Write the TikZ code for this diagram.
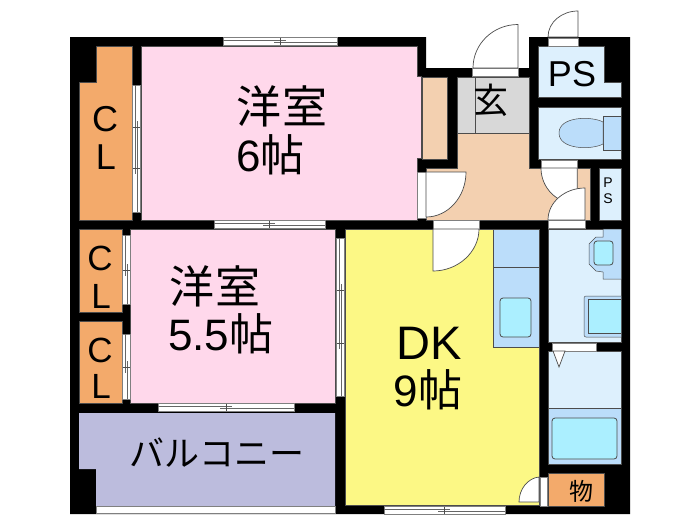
\documentclass[tikz,border=0pt]{standalone}
\usepackage{fontspec}
\setmainfont{Liberation Sans}
\newfontfamily\cjkfont{Noto Sans CJK JP}
\usetikzlibrary{positioning}

\begin{document}
\begin{tikzpicture} [
						x=1pt, y=-1pt,
						room/.style={draw=black!70, line width=0.5pt},
						pinkroom/.style={room, fill=pink1},
						closet/.style={room, fill=orange1},
						hall/.style={room, fill=peach1},
						wet/.style={room, fill=blue1},
						fixture/.style={room, fill=blue2},
						basin/.style={room, fill=blue3, line width=0.8pt, rounded corners=3pt},
						doorleaf/.style={draw=black!70, line width=0.7pt, fill=white},
						sill/.style={draw=black!50, line width=0.4pt, fill=white},
						label/.style={inner sep=0pt, text=black},
						bigjp/.style={label, font=\cjkfont\fontsize{45}{45}\selectfont},
						bignum/.style={label, font=\fontsize{44}{44}\selectfont}
					]
\definecolor{pink1}{HTML}{FFD8EB}
\definecolor{orange1}{HTML}{F3AA6B}
\definecolor{peach1}{HTML}{F3D0B0}
\definecolor{blue1}{HTML}{DDF0FD}
\definecolor{blue2}{HTML}{BBDDFA}
\definecolor{blue3}{HTML}{ABEFFF}
\definecolor{yellow1}{HTML}{FCF885}
\definecolor{gray1}{HTML}{D8D8D8}
\definecolor{lilac1}{HTML}{BCBCDD}

\useasboundingbox (0,0) rectangle (700,525);
\fill[white] (0,0) rectangle (700,525);

% walls
\fill[black] (70,37) -- (426,37) -- (426,68) -- (529,68) -- (529,37) -- (630,37)
	-- (630,514) -- (70,514) -- cycle;

% rooms
\draw[pinkroom] (141,46) -- (417,46) -- (417,76) -- (421,76) -- (421,158) -- (417,158)
	-- (417,220) -- (141,220) -- cycle;
\draw[pinkroom] (130,229) rectangle (335,403);
\draw[closet] (96,46) -- (132,46) -- (132,220) -- (79,220) -- (79,82) -- (96,82) -- cycle;
\draw[closet] (79,229) rectangle (122,312);
\draw[closet] (79,321) rectangle (122,403);
\fill[lilac1] (79,413) -- (335,413) -- (335,506) -- (96,506) -- (96,469) -- (79,469) -- cycle;
\draw[room, fill=peach1] (422,77) rectangle (447,159);
\draw[room, fill=gray1] (457,77) rectangle (529,133);
\draw[room] (475,77) -- (475,133);
\draw[hall] (457,133) -- (529,133) -- (529,168) -- (590,168) -- (590,220) -- (426,220)
	-- (426,168) -- (457,168) -- cycle;
\draw[room, fill=yellow1] (345,229) rectangle (539,505);
\draw[fixture] (493,229) rectangle (539,347);
\draw[room] (493,267) -- (539,267);
\draw[basin] (500,298) rectangle (531,337);

% wet rooms
\draw[wet] (538,46) -- (604,46) -- (604,82) -- (621,82) -- (621,97) -- (538,97) -- cycle;
\draw[wet] (538,107) rectangle (621,159);
\draw[wet] (599,168) rectangle (621,220);
\draw[wet] (548,229) rectangle (621,342);
\draw[wet] (548,351) rectangle (621,408);
\draw[fixture] (548,408) rectangle (621,464);
\draw[basin] (552,418) rectangle (617,459);
\draw[room, fill=orange1] (548,473) rectangle (604,506);

% toilet
\draw[fixture] (603,116) rectangle (621,150);
\draw[fixture] (603,122) .. controls (592,116) and (559,116) .. (559,133)
	.. controls (559,150) and (592,150) .. (603,144) -- cycle;

% washbasin and washer
\draw[fixture] (621,229) -- (603,229) -- (603,237) -- (596,237) -- (589,244) -- (589,264)
	-- (596,271) -- (603,272) -- (603,279) -- (621,279);
\draw[basin] (594,241) rectangle (613,265);
\draw[fixture, rounded corners=2pt] (621,296) -- (584,296) -- (584,337) -- (621,337);
\draw[room, fill=blue3] (621,299) -- (588,299) -- (588,333) -- (621,333);

% windows
\foreach \xa/\xb/\ya/\xm in {223/337/37/280, 214/325/220/269, 158/294/403/226, 384/505/506/444} {
	\draw[sill] (\xa,\ya) rectangle (\xb,\ya+8.5);
	\draw[black!60, line width=0.7pt] (\xa,\ya+3.4) -- (\xm+6,\ya+3.4) (\xm-6,\ya+5) -- (\xb,\ya+5);
	\draw[black!70, line width=0.5pt] (\xm,\ya+0.5) -- (\xm,\ya+8);
}
\foreach \xa/\ya/\yb/\yma/\ymb in {132.5/85/212/127/168, 122/235/304/270/270, 122/334/399/367/367, 336/238/396/290/343} {
	\draw[sill] (\xa,\ya) rectangle (\xa+8,\yb);
	\draw[black!60, line width=0.7pt] (\xa+3,\ya) -- (\xa+3,\ymb+6) (\xa+5,\yma-6) -- (\xa+5,\yb);
	\draw[black!70, line width=0.5pt] (\xa+0.5,\yma) -- (\xa+7.5,\yma) (\xa+0.5,\ymb) -- (\xa+7.5,\ymb);
}
\draw[sill] (96,506.5) rectangle (335,513.5);

% sills and doors
\draw[sill] (472,68) rectangle (518,76);
\draw[doorleaf] (518,68) -- (518,24.5) .. controls (493,24.5) and (473,44) .. (473,68) -- cycle;
\draw[sill] (548,38) rectangle (578,46);
\draw[doorleaf] (578,37) -- (578,11) .. controls (562,11) and (548,22) .. (548,37) -- cycle;
\draw[sill] (417,172) rectangle (426,218);
\draw[doorleaf] (426,172) -- (466,172) .. controls (466,197) and (448,217) .. (426,217) -- cycle;
\draw[sill] (541,160) rectangle (577,168);
\draw[doorleaf] (577.3,168) -- (541,168) .. controls (541,188) and (557,204) .. (577.3,204) -- cycle;
\draw[sill] (548,220) rectangle (585,228);
\draw[doorleaf] (585,220) -- (585,188) .. controls (565,188) and (548,202) .. (548,220) -- cycle;
\draw[sill] (433,220) rectangle (479,229);
\draw[doorleaf] (433,229) -- (479,229) .. controls (479,252) and (458,271) .. (433,271) -- cycle;
\draw[sill] (552,343) rectangle (596,351);
\draw[doorleaf] (553,351) -- (565,351) -- (559,367) -- cycle;
\draw[sill] (540,477) rectangle (547,506);
\draw[doorleaf] (539,502) -- (519,502) .. controls (519,489) and (528,478) .. (539,477) -- cycle;

% texts
\node (cla) [label, font=\fontsize{36}{36}\selectfont] at (105,119) {C};
\node (clb) [label, font=\fontsize{36}{36}\selectfont] at (106,157) {L};
\node (clc) [label, font=\fontsize{35}{35}\selectfont] at (100,258) {C};
\node (cld) [label, font=\fontsize{35}{35}\selectfont] at (101,296) {L};
\node (cle) [label, font=\fontsize{35}{35}\selectfont] at (100,350) {C};
\node (clf) [label, font=\fontsize{35}{35}\selectfont] at (101,386) {L};
\node (r6a) [bigjp, anchor=west] at (236,106) {洋\hspace{1pt}室};
\node (r6b) [bignum, anchor=west] at (236,155) {6\cjkfont 帖};
\node (r5a) [bigjp, anchor=west] at (169,286) {洋\hspace{1pt}室};
\node (r5b) [bignum, anchor=west] at (168,334) {5.5\cjkfont 帖};
\node (dka) [bignum, font=\fontsize{47}{47}\selectfont] at (429,343) {DK};
\node (dkb) [bignum] at (428,390) {9\cjkfont 帖};
\node (balcony) [label, font=\cjkfont\fontsize{35}{35}\selectfont] at (217,453) {バルコニー};
\node (entry) [label, font=\cjkfont\fontsize{35}{35}\selectfont] at (491,100) {玄};
\node (store) [label, font=\cjkfont\fontsize{24}{24}\selectfont] at (581,491) {物};
\node (psa) [label, font=\fontsize{36}{36}\selectfont] at (572,74) {PS};
\node (psb) [label, font=\fontsize{14}{14}\selectfont] at (608,183) {P};
\node (psc) [label, font=\fontsize{14}{14}\selectfont] at (608,199) {S};
\end{tikzpicture}
\end{document}
